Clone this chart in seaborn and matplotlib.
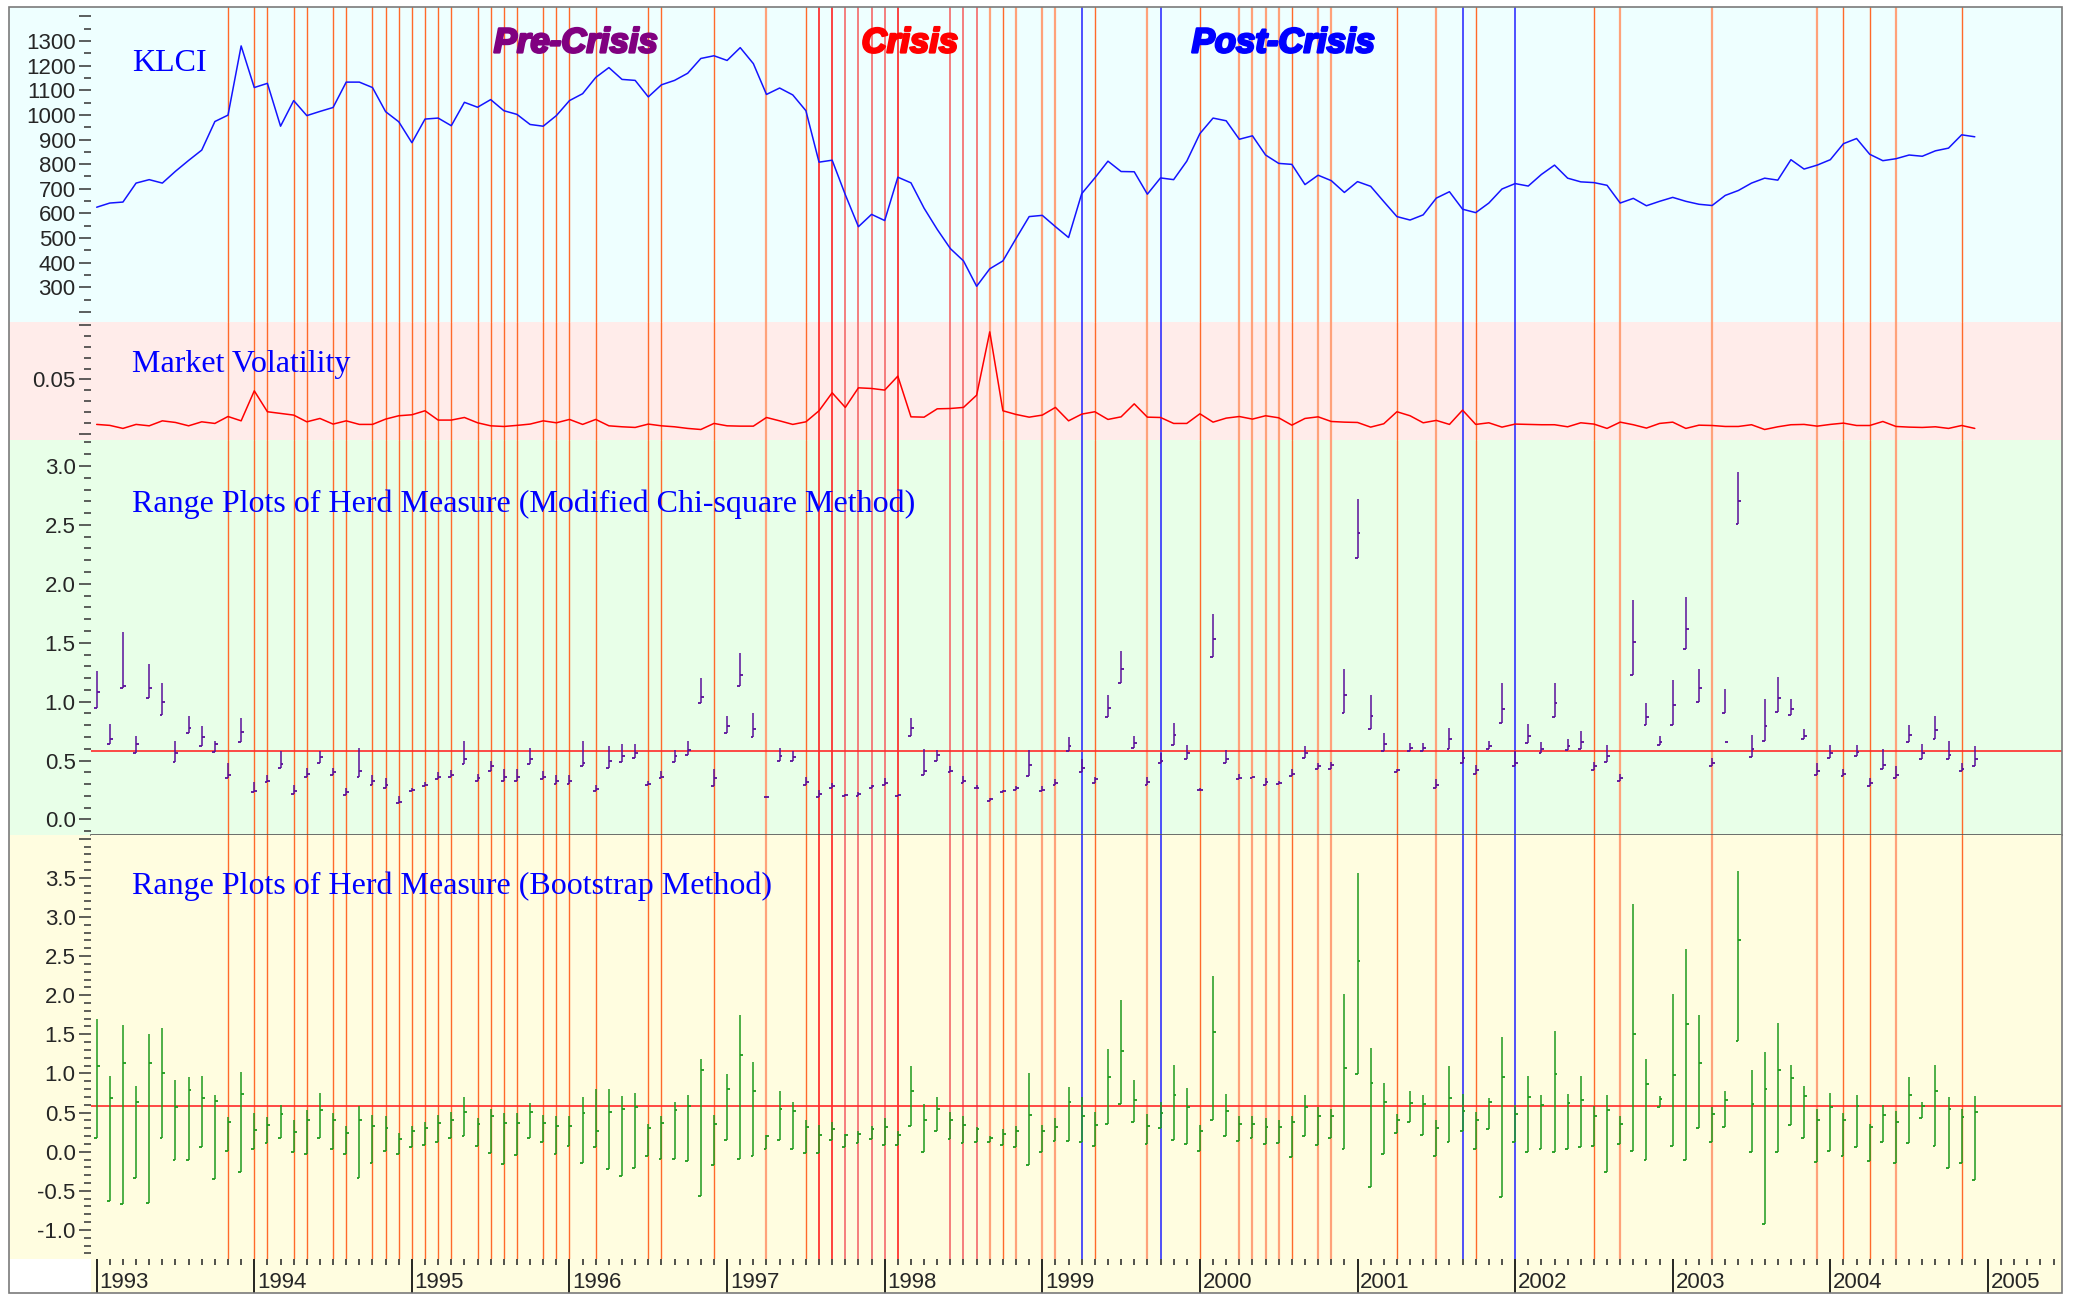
import numpy as np
import pandas as pd
import seaborn as sns
import matplotlib
matplotlib.use("Agg")
from matplotlib import pyplot as plt
from matplotlib import patheffects
from matplotlib.patches import Rectangle
from matplotlib.ticker import MultipleLocator, FixedLocator

sns.set_style("ticks")
plt.rcParams['font.family'] = ['Liberation Sans', 'DejaVu Sans']
plt.rcParams['axes.unicode_minus'] = False

# monthly data, Jan 1993 - Dec 2004
klci = [625, 642, 646, 723, 737, 723, 771, 815, 857, 973,
        999, 1280, 1111, 1128, 954, 1058, 997, 1014, 1030, 1133,
        1133, 1111, 1013, 972, 887, 983, 987, 956, 1051, 1031,
        1062, 1017, 1002, 961, 954, 997, 1058, 1086, 1152, 1192,
        1144, 1140, 1073, 1122, 1140, 1169, 1229, 1240, 1221, 1273,
        1208, 1083, 1109, 1081, 1017, 808, 816, 676, 546, 596,
        571, 747, 724, 621, 535, 457, 407, 304, 375, 407,
        498, 587, 592, 546, 502, 680, 744, 812, 770, 769,
        678, 744, 737, 812, 924, 987, 976, 901, 915, 837,
        803, 799, 717, 755, 733, 685, 729, 710, 648, 587,
        573, 594, 662, 688, 617, 603, 642, 699, 721, 711,
        758, 796, 743, 728, 725, 714, 642, 661, 631, 649,
        665, 649, 637, 632, 673, 693, 723, 743, 735, 818,
        780, 796, 818, 883, 904, 840, 814, 822, 837, 832,
        854, 865, 919, 911]

volatility = [0.0085, 0.0076, 0.0048, 0.0085, 0.0072, 0.0118, 0.0103, 0.0072, 0.0109, 0.0094,
              0.0158, 0.0118, 0.0395, 0.0202, 0.0186, 0.0171, 0.0109, 0.0140, 0.0088, 0.0118,
              0.0085, 0.0085, 0.0134, 0.0165, 0.0174, 0.0211, 0.0125, 0.0125, 0.0149, 0.0100,
              0.0072, 0.0066, 0.0076, 0.0088, 0.0118, 0.0100, 0.0131, 0.0085, 0.0131, 0.0072,
              0.0063, 0.0057, 0.0088, 0.0072, 0.0063, 0.0048, 0.0038, 0.0094, 0.0072, 0.0069,
              0.0069, 0.0149, 0.0118, 0.0085, 0.0109, 0.0211, 0.0377, 0.0242, 0.0423, 0.0417,
              0.0402, 0.0531, 0.0155, 0.0152, 0.0229, 0.0232, 0.0242, 0.0355, 0.0940, 0.0211,
              0.0177, 0.0152, 0.0171, 0.0242, 0.0118, 0.0180, 0.0202, 0.0131, 0.0155, 0.0275,
              0.0152, 0.0149, 0.0094, 0.0094, 0.0183, 0.0106, 0.0143, 0.0158, 0.0134, 0.0165,
              0.0146, 0.0078, 0.0140, 0.0155, 0.0112, 0.0106, 0.0103, 0.0060, 0.0091, 0.0202,
              0.0165, 0.0100, 0.0122, 0.0085, 0.0217, 0.0085, 0.0100, 0.0060, 0.0088, 0.0085,
              0.0082, 0.0082, 0.0063, 0.0100, 0.0088, 0.0048, 0.0106, 0.0082, 0.0051, 0.0094,
              0.0106, 0.0048, 0.0078, 0.0075, 0.0066, 0.0066, 0.0082, 0.0038, 0.0063, 0.0082,
              0.0085, 0.0069, 0.0085, 0.0097, 0.0075, 0.0075, 0.0112, 0.0066, 0.0060, 0.0057,
              0.0063, 0.0048, 0.0075, 0.0048]

# herd measure, modified chi-square method (high / mid / low)
chi_hi = [1.26, 0.81, 1.59, 0.71, 1.32, 1.16, 0.67, 0.88, 0.79, 0.67,
          0.48, 0.86, 0.32, 0.38, 0.58, 0.29, 0.44, 0.58, 0.44, 0.27,
          0.61, 0.38, 0.35, 0.20, 0.27, 0.32, 0.40, 0.42, 0.67, 0.39,
          0.50, 0.43, 0.43, 0.61, 0.41, 0.38, 0.38, 0.67, 0.29, 0.62,
          0.64, 0.64, 0.33, 0.41, 0.59, 0.67, 1.20, 0.43, 0.88, 1.41,
          0.90, 0.19, 0.61, 0.58, 0.36, 0.25, 0.31, 0.22, 0.23, 0.29,
          0.35, 0.21, 0.86, 0.60, 0.59, 0.45, 0.37, 0.29, 0.18, 0.25,
          0.28, 0.59, 0.28, 0.34, 0.70, 0.51, 0.36, 1.06, 1.43, 0.71,
          0.36, 0.56, 0.82, 0.63, 0.27, 1.74, 0.59, 0.39, 0.36, 0.35,
          0.33, 0.43, 0.62, 0.48, 0.49, 1.28, 2.72, 1.06, 0.73, 0.43,
          0.65, 0.65, 0.34, 0.78, 0.59, 0.46, 0.67, 1.16, 0.58, 0.81,
          0.66, 1.16, 0.68, 0.75, 0.49, 0.63, 0.39, 1.86, 0.99, 0.71,
          1.18, 1.89, 1.28, 0.52, 1.11, 2.95, 0.72, 1.02, 1.21, 1.02,
          0.77, 0.48, 0.63, 0.43, 0.63, 0.35, 0.60, 0.45, 0.80, 0.64,
          0.88, 0.67, 0.48, 0.62]
chi_mid = [1.08, 0.68, 1.13, 0.64, 1.12, 1.00, 0.56, 0.78, 0.70, 0.64,
           0.38, 0.74, 0.24, 0.33, 0.47, 0.24, 0.39, 0.53, 0.40, 0.23,
           0.41, 0.33, 0.29, 0.15, 0.25, 0.29, 0.36, 0.38, 0.51, 0.35,
           0.45, 0.36, 0.36, 0.51, 0.36, 0.33, 0.33, 0.48, 0.26, 0.50,
           0.54, 0.56, 0.30, 0.36, 0.54, 0.59, 1.04, 0.35, 0.79, 1.23,
           0.77, 0.19, 0.54, 0.53, 0.32, 0.22, 0.28, 0.21, 0.22, 0.28,
           0.31, 0.21, 0.78, 0.41, 0.55, 0.41, 0.33, 0.27, 0.17, 0.24,
           0.27, 0.46, 0.25, 0.31, 0.62, 0.44, 0.34, 0.95, 1.28, 0.65,
           0.32, 0.50, 0.72, 0.56, 0.25, 1.53, 0.51, 0.35, 0.36, 0.32,
           0.31, 0.39, 0.56, 0.45, 0.46, 1.06, 2.43, 0.88, 0.64, 0.42,
           0.61, 0.61, 0.29, 0.68, 0.52, 0.42, 0.62, 0.94, 0.48, 0.71,
           0.60, 0.99, 0.62, 0.66, 0.45, 0.54, 0.35, 1.51, 0.87, 0.66,
           0.97, 1.62, 1.12, 0.48, 0.66, 2.70, 0.60, 0.79, 1.03, 0.94,
           0.71, 0.41, 0.56, 0.39, 0.57, 0.31, 0.46, 0.38, 0.72, 0.56,
           0.76, 0.55, 0.43, 0.51]
chi_lo = [0.95, 0.64, 1.12, 0.56, 1.03, 0.89, 0.49, 0.73, 0.62, 0.57,
          0.35, 0.66, 0.23, 0.32, 0.44, 0.22, 0.36, 0.48, 0.38, 0.21,
          0.36, 0.29, 0.27, 0.14, 0.24, 0.28, 0.34, 0.36, 0.47, 0.33,
          0.41, 0.33, 0.33, 0.47, 0.34, 0.30, 0.30, 0.45, 0.24, 0.44,
          0.49, 0.52, 0.29, 0.35, 0.49, 0.55, 0.99, 0.28, 0.73, 1.13,
          0.70, 0.19, 0.50, 0.50, 0.29, 0.19, 0.27, 0.20, 0.20, 0.27,
          0.29, 0.20, 0.71, 0.38, 0.50, 0.40, 0.31, 0.27, 0.16, 0.23,
          0.25, 0.37, 0.24, 0.29, 0.58, 0.40, 0.31, 0.87, 1.16, 0.61,
          0.29, 0.48, 0.63, 0.51, 0.25, 1.38, 0.48, 0.34, 0.35, 0.29,
          0.30, 0.37, 0.52, 0.43, 0.43, 0.90, 2.22, 0.77, 0.58, 0.40,
          0.58, 0.58, 0.27, 0.60, 0.48, 0.39, 0.60, 0.82, 0.45, 0.65,
          0.56, 0.87, 0.59, 0.60, 0.42, 0.49, 0.33, 1.23, 0.80, 0.63,
          0.80, 1.45, 1.00, 0.45, 0.90, 2.51, 0.53, 0.67, 0.91, 0.89,
          0.68, 0.38, 0.52, 0.37, 0.54, 0.28, 0.43, 0.35, 0.66, 0.51,
          0.68, 0.51, 0.41, 0.45]

# herd measure, bootstrap method (high / mid / low)
boot_hi = [1.69, 0.97, 1.62, 0.84, 1.51, 1.58, 0.92, 0.95, 0.97, 0.72,
           0.44, 1.02, 0.49, 0.44, 0.60, 0.41, 0.53, 0.75, 0.49, 0.33,
           0.58, 0.47, 0.46, 0.24, 0.33, 0.38, 0.47, 0.51, 0.70, 0.43,
           0.54, 0.49, 0.50, 0.62, 0.47, 0.46, 0.46, 0.70, 0.80, 0.80,
           0.71, 0.75, 0.35, 0.46, 0.63, 0.72, 1.19, 0.47, 0.99, 1.75,
           1.15, 0.21, 0.77, 0.63, 0.40, 0.34, 0.38, 0.23, 0.27, 0.33,
           0.43, 0.26, 1.10, 0.61, 0.70, 0.51, 0.45, 0.32, 0.20, 0.29,
           0.33, 1.01, 0.34, 0.43, 0.83, 0.70, 0.51, 1.31, 1.94, 0.91,
           0.48, 0.64, 1.11, 0.81, 0.34, 2.24, 0.74, 0.46, 0.45, 0.43,
           0.41, 0.46, 0.72, 0.57, 0.55, 2.02, 3.56, 1.32, 0.88, 0.48,
           0.78, 0.72, 0.41, 1.10, 0.74, 0.51, 0.69, 1.47, 0.60, 0.97,
           0.72, 1.54, 0.74, 0.97, 0.58, 0.72, 0.46, 3.17, 1.19, 0.71,
           2.02, 2.59, 1.75, 0.57, 0.78, 3.59, 1.04, 1.28, 1.65, 1.11,
           0.84, 0.55, 0.75, 0.49, 0.72, 0.36, 0.60, 0.52, 0.96, 0.64,
           1.11, 0.70, 0.55, 0.71]
boot_mid = [1.09, 0.69, 1.13, 0.64, 1.13, 1.00, 0.57, 0.79, 0.69, 0.65,
            0.38, 0.74, 0.28, 0.34, 0.48, 0.25, 0.41, 0.53, 0.41, 0.24,
            0.41, 0.33, 0.30, 0.16, 0.26, 0.30, 0.37, 0.40, 0.51, 0.36,
            0.46, 0.37, 0.37, 0.51, 0.37, 0.33, 0.33, 0.50, 0.26, 0.51,
            0.55, 0.57, 0.30, 0.37, 0.53, 0.59, 1.05, 0.35, 0.80, 1.24,
            0.78, 0.20, 0.54, 0.52, 0.32, 0.21, 0.29, 0.21, 0.23, 0.29,
            0.32, 0.21, 0.78, 0.41, 0.55, 0.41, 0.34, 0.29, 0.17, 0.23,
            0.27, 0.47, 0.26, 0.32, 0.63, 0.46, 0.34, 0.95, 1.29, 0.66,
            0.33, 0.50, 0.72, 0.57, 0.26, 1.53, 0.52, 0.35, 0.36, 0.32,
            0.32, 0.38, 0.57, 0.46, 0.46, 1.07, 2.44, 0.88, 0.64, 0.41,
            0.62, 0.61, 0.30, 0.68, 0.52, 0.41, 0.63, 0.95, 0.48, 0.70,
            0.60, 0.99, 0.62, 0.66, 0.45, 0.53, 0.35, 1.51, 0.87, 0.67,
            0.98, 1.63, 1.13, 0.48, 0.66, 2.71, 0.61, 0.80, 1.04, 0.94,
            0.71, 0.41, 0.57, 0.40, 0.58, 0.31, 0.47, 0.38, 0.72, 0.58,
            0.77, 0.55, 0.44, 0.51]
boot_lo = [0.17, -0.63, -0.67, -0.33, -0.66, 0.18, -0.10, -0.11, 0.06, -0.35,
           0.01, -0.26, 0.04, 0.11, 0.17, -0.01, -0.03, 0.17, 0.04, -0.03,
           -0.34, -0.14, 0.01, -0.03, 0.06, 0.09, 0.12, 0.18, 0.20, 0.07,
           -0.02, -0.16, -0.04, 0.17, 0.13, -0.03, 0.07, -0.15, 0.06, -0.22,
           -0.31, -0.21, -0.06, -0.09, -0.09, -0.12, -0.56, -0.17, 0.15, -0.09,
           -0.06, 0.04, 0.15, 0.04, -0.02, -0.02, 0.15, 0.06, 0.11, 0.16,
           0.09, 0.09, 0.33, -0.01, 0.26, 0.16, 0.11, 0.13, 0.12, 0.09,
           0.06, -0.17, 0.00, 0.14, 0.14, 0.13, 0.07, 0.36, 0.61, 0.38,
           0.10, 0.30, 0.15, 0.10, 0.01, 0.40, 0.20, 0.14, 0.17, 0.10,
           0.11, -0.07, 0.20, 0.09, 0.17, 0.04, 0.99, -0.45, -0.03, 0.24,
           0.38, 0.21, -0.06, 0.12, 0.27, 0.04, 0.29, -0.58, 0.13, 0.00,
           0.03, -0.01, 0.03, 0.06, 0.07, -0.26, 0.10, 0.01, -0.10, 0.57,
           0.07, -0.11, 0.30, 0.12, 0.32, 1.41, -0.01, -0.92, -0.01, 0.34,
           0.17, -0.13, 0.01, -0.06, 0.06, -0.12, 0.12, -0.15, 0.11, 0.43,
           0.07, -0.21, -0.15, -0.36]

# months (counted from Jan 1993) marked with vertical lines
event_orange = [10, 12, 13, 15, 16, 18, 19, 21, 22, 23, 24, 25, 26, 27, 29, 30, 31, 32,
                34, 35, 36, 38, 42, 43, 47, 54, 69, 76, 84, 91, 99, 105, 114, 133, 135, 142]
event_peach = [51, 68, 70, 72, 73, 80, 87, 88, 89, 90, 93, 94, 102, 116, 123, 131, 137]
event_red = [55, 56, 61]
event_salmon = [57, 58, 59, 60, 65, 66, 67]
event_blue = [75, 81, 104, 108]
herd_threshold = 0.58
years = list(range(1993, 2006))

months = np.arange(len(klci))
t = 1993 + months / 12
df = pd.DataFrame({'t': t, 'klci': klci, 'vol': volatility})

W, H = 2076, 1295
fig = plt.figure(figsize=(W / 100, H / 100), dpi=100)


def box(x0, y0, x1, y1):
    return [x0 / W, 1 - y1 / H, (x1 - x0) / W, (y1 - y0) / H]


bands = [(7, 322, '#eeffff'), (322, 440, '#ffecea'), (440, 835, '#e8ffe8'), (835, 1259, '#fffde0')]
for y0, y1, c in bands:
    b = box(9, y0, 2062, y1)
    fig.patches.append(Rectangle((b[0], b[1]), b[2], b[3], transform=fig.transFigure,
                                 facecolor=c, edgecolor='none', zorder=-2))
b = box(91, 1259, 2062, 1293)
fig.patches.append(Rectangle((b[0], b[1]), b[2], b[3], transform=fig.transFigure,
                             facecolor='#fffde0', edgecolor='none', zorder=-2))
b = box(9, 7, 2062, 1293)
fig.patches.append(Rectangle((b[0], b[1]), b[2], b[3], transform=fig.transFigure,
                             facecolor='none', edgecolor='#7a7a7a', lw=1.2, zorder=20))

axes = []
for y0, y1, c in bands:
    ax = fig.add_axes(box(91, y0, 2062, y1))
    ax.set_facecolor(c)
    ax.set_xlim(1992.964, 2005.47)
    for s in ax.spines.values():
        s.set_visible(False)
    for m in event_orange:
        ax.axvline(1993 + m / 12, color='#ff6a2a', lw=1.0, zorder=1)
    for m in event_peach:
        ax.axvline(1993 + m / 12, color='#ffa27a', lw=1.6, zorder=1)
    for m in event_red:
        ax.axvline(1993 + m / 12, color='#ff1010', lw=1.1, zorder=1)
    for m in event_salmon:
        ax.axvline(1993 + m / 12, color='#f47474', lw=1.3, zorder=1)
    for m in event_blue:
        ax.axvline(1993 + m / 12, color='#2020ff', lw=1.1, zorder=1)
    ax.tick_params(axis='y', which='major', direction='out', length=9, width=1.1,
                   color='#333333', labelsize=16, pad=2)
    ax.tick_params(axis='y', which='minor', direction='out', length=4.8, width=1.1, color='#333333')
    ax.tick_params(axis='x', which='both', bottom=False, labelbottom=False)
    axes.append(ax)
ax1, ax2, ax3, ax4 = axes

sns.lineplot(data=df, x='t', y='klci', ax=ax1, color='#1414ff', lw=1.1, zorder=3)
sns.lineplot(data=df, x='t', y='vol', ax=ax2, color='#ff0000', lw=1.1, zorder=3)


def range_bars(ax, hi, mid, lo, color):
    w = 0.018
    ax.vlines(t, lo, hi, color=color, lw=1.1, zorder=4)
    ax.hlines(lo, t - w, t, color=color, lw=1.3, zorder=4)
    ax.hlines(mid, t, t + w, color=color, lw=1.3, zorder=4)
    ax.axhline(herd_threshold, color='#ff2a2a', lw=1.2, zorder=3)


range_bars(ax3, chi_hi, chi_mid, chi_lo, '#5a0f9a')
range_bars(ax4, boot_hi, boot_mid, boot_lo, '#1e9b1e')

for ax in axes:
    ax.set_xlabel('')
    ax.set_ylabel('')

ax1.set_ylim(159, 1438)
ticks = list(range(200, 1401, 100))
ax1.set_yticks(ticks, ['' if v in (200, 1400) else str(v) for v in ticks])
ax1.yaxis.set_minor_locator(MultipleLocator(50))

ax2.set_ylim(-0.0059, 0.1031)
ax2.set_yticks([0.0, 0.05, 0.10], ['', '0.05', ''])
ax2.yaxis.set_minor_locator(MultipleLocator(0.01))

ax3.set_ylim(-0.132, 3.221)
ticks = np.arange(0, 3.01, 0.5)
ax3.set_yticks(ticks, [f'{v:.1f}' for v in ticks])
ax3.yaxis.set_minor_locator(MultipleLocator(0.1))
ax3.spines['bottom'].set_visible(True)
ax3.spines['bottom'].set_color('#555555')
ax3.spines['bottom'].set_linewidth(1.2)

ax4.set_ylim(-1.371, 4.047)
ticks = np.arange(-1.0, 4.01, 0.5)
ax4.set_yticks(ticks, ['' if v > 3.9 else f'{v:.1f}' for v in ticks])
ax4.yaxis.set_minor_locator(MultipleLocator(0.1))

ax4.tick_params(axis='x', which='both', bottom=True, labelbottom=False, direction='out')
ax4.xaxis.set_major_locator(FixedLocator(years))
ax4.xaxis.set_minor_locator(FixedLocator(1993 + np.arange(0, 150) / 12))
ax4.tick_params(axis='x', which='major', length=24.5, width=1.2, color='black')
ax4.tick_params(axis='x', which='minor', length=4.3, width=1.1, color='#222222')
for y in years:
    ax4.annotate(str(y), xy=(y, 0), xycoords=('data', 'axes fraction'), xytext=(2, -9.5),
                 textcoords='offset points', ha='left', va='top', fontsize=16)

title_font = dict(family='Liberation Serif', fontsize=23, color='#0000ff', ha='left', va='baseline', zorder=6)
ax1.text(0.0208, 0.798, 'KLCI', transform=ax1.transAxes, **title_font)
ax2.text(0.0208, 0.579, 'Market Volatility', transform=ax2.transAxes, **title_font)
ax3.text(0.0208, 0.8165, 'Range Plots of Herd Measure (Modified Chi-square Method)',
         transform=ax3.transAxes, **title_font)
ax4.text(0.0208, 0.861, 'Range Plots of Herd Measure (Bootstrap Method)',
         transform=ax4.transAxes, **title_font)

phase_font = dict(family='Liberation Sans', fontsize=25, weight='bold', style='italic',
                  ha='center', va='baseline', zorder=6)
for label, x, c in [('Pre-Crisis', 0.246, '#800080'), ('Crisis', 0.4155, '#ff0000'),
                    ('Post-Crisis', 0.605, '#0000ff')]:
    ax1.text(x, 0.856, label, transform=ax1.transAxes, color=c,
             path_effects=[patheffects.withStroke(linewidth=1.8, foreground=c)], **phase_font)

fig.savefig('out.png', dpi=100)
